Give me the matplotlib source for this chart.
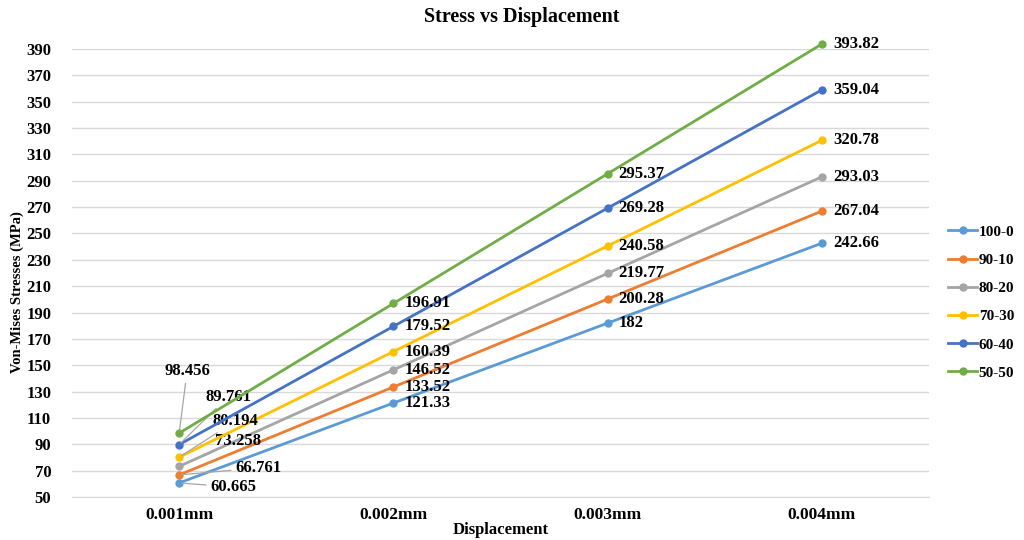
import numpy as np
import matplotlib.pyplot as plt

# data
categories = ['0.001mm', '0.002mm', '0.003mm', '0.004mm']
series_names = ['100-0', '90-10', '80-20', '70-30', '60-40', '50-50']
s100_0 = [60.665, 121.33, 182, 242.66]
s90_10 = [66.761, 133.52, 200.28, 267.04]
s80_20 = [73.258, 146.52, 219.77, 293.03]
s70_30 = [80.194, 160.39, 240.58, 320.78]
s60_40 = [89.761, 179.52, 269.28, 359.04]
s50_50 = [98.456, 196.91, 295.37, 393.82]
values = [s100_0, s90_10, s80_20, s70_30, s60_40, s50_50]
colors = ['#5B9BD5', '#ED7D31', '#A5A5A5', '#FFC000', '#4472C4', '#70AD47']

# pixel offsets of the first-point labels (they have leader lines)
first_offsets = [(54, -4), (79, 7), (59, 25), (56, 36), (49, 48), (8, 62)]

plt.rcParams['font.family'] = ['Liberation Serif', 'DejaVu Serif']
plt.rcParams['font.weight'] = 'bold'

fig = plt.figure(figsize=(10.24, 5.4), dpi=100)
ax = fig.add_axes([0.0703, 0.0796, 0.837, 0.8296])

x = np.arange(len(categories))
for i, (name, vals) in enumerate(zip(series_names, values)):
    ax.plot(x, vals, color=colors[i], lw=2, marker='o', ms=5, label=name,
            zorder=3, clip_on=False)
    for j in range(1, len(x)):
        v = vals[j]
        txt = ('%g' % v) if v != int(v) else str(int(v))
        ax.annotate(txt, xy=(x[j], v), xytext=(11, 0), textcoords='offset pixels',
                    ha='left', va='center', fontsize=12, fontweight='bold',
                    annotation_clip=False)
    dx, dy = first_offsets[i]
    ax.annotate(('%g' % vals[0]), xy=(x[0], vals[0]), xytext=(dx, dy),
                textcoords='offset pixels', ha='center', va='center',
                fontsize=12, fontweight='bold', annotation_clip=False,
                arrowprops=dict(arrowstyle='-', color='#A6A6A6', lw=0.9,
                                shrinkA=1, shrinkB=2))

ax.set_xlim(-0.5, 3.5)
ax.set_ylim(50, 390)
ax.set_yticks(np.arange(50, 391, 20))
ax.set_xticks(x)
ax.set_xticklabels(categories)
ax.tick_params(length=0, labelsize=12)
ax.tick_params(axis='x', pad=7, labelsize=12.5)
ax.tick_params(axis='y', pad=15)
for lab in ax.get_xticklabels() + ax.get_yticklabels():
    lab.set_fontweight('bold')
ax.grid(axis='y', color='#D9D9D9', lw=1)
ax.set_axisbelow(True)
for s in ['top', 'right', 'left']:
    ax.spines[s].set_visible(False)
ax.spines['bottom'].set_color('#D9D9D9')

fig.text(0.51, 0.968, 'Stress vs Displacement', ha='center', va='center',
         fontsize=14.5, fontweight='bold')
fig.text(0.489, 0.018, 'Displacement', ha='center', va='center',
         fontsize=12, fontweight='bold')
fig.text(0.017, 0.46, 'Von-Mises Stresses (MPa)', ha='center', va='center',
         rotation=90, fontsize=10.5, fontweight='bold')

ax.legend(loc='center left', bbox_to_anchor=(0.926, 0.44), bbox_transform=fig.transFigure,
          frameon=False, handlelength=1.9, handletextpad=0.1, borderpad=0,
          borderaxespad=0, labelspacing=0.95, prop={'weight': 'bold', 'size': 11})

fig.savefig('out.png', dpi=100)
